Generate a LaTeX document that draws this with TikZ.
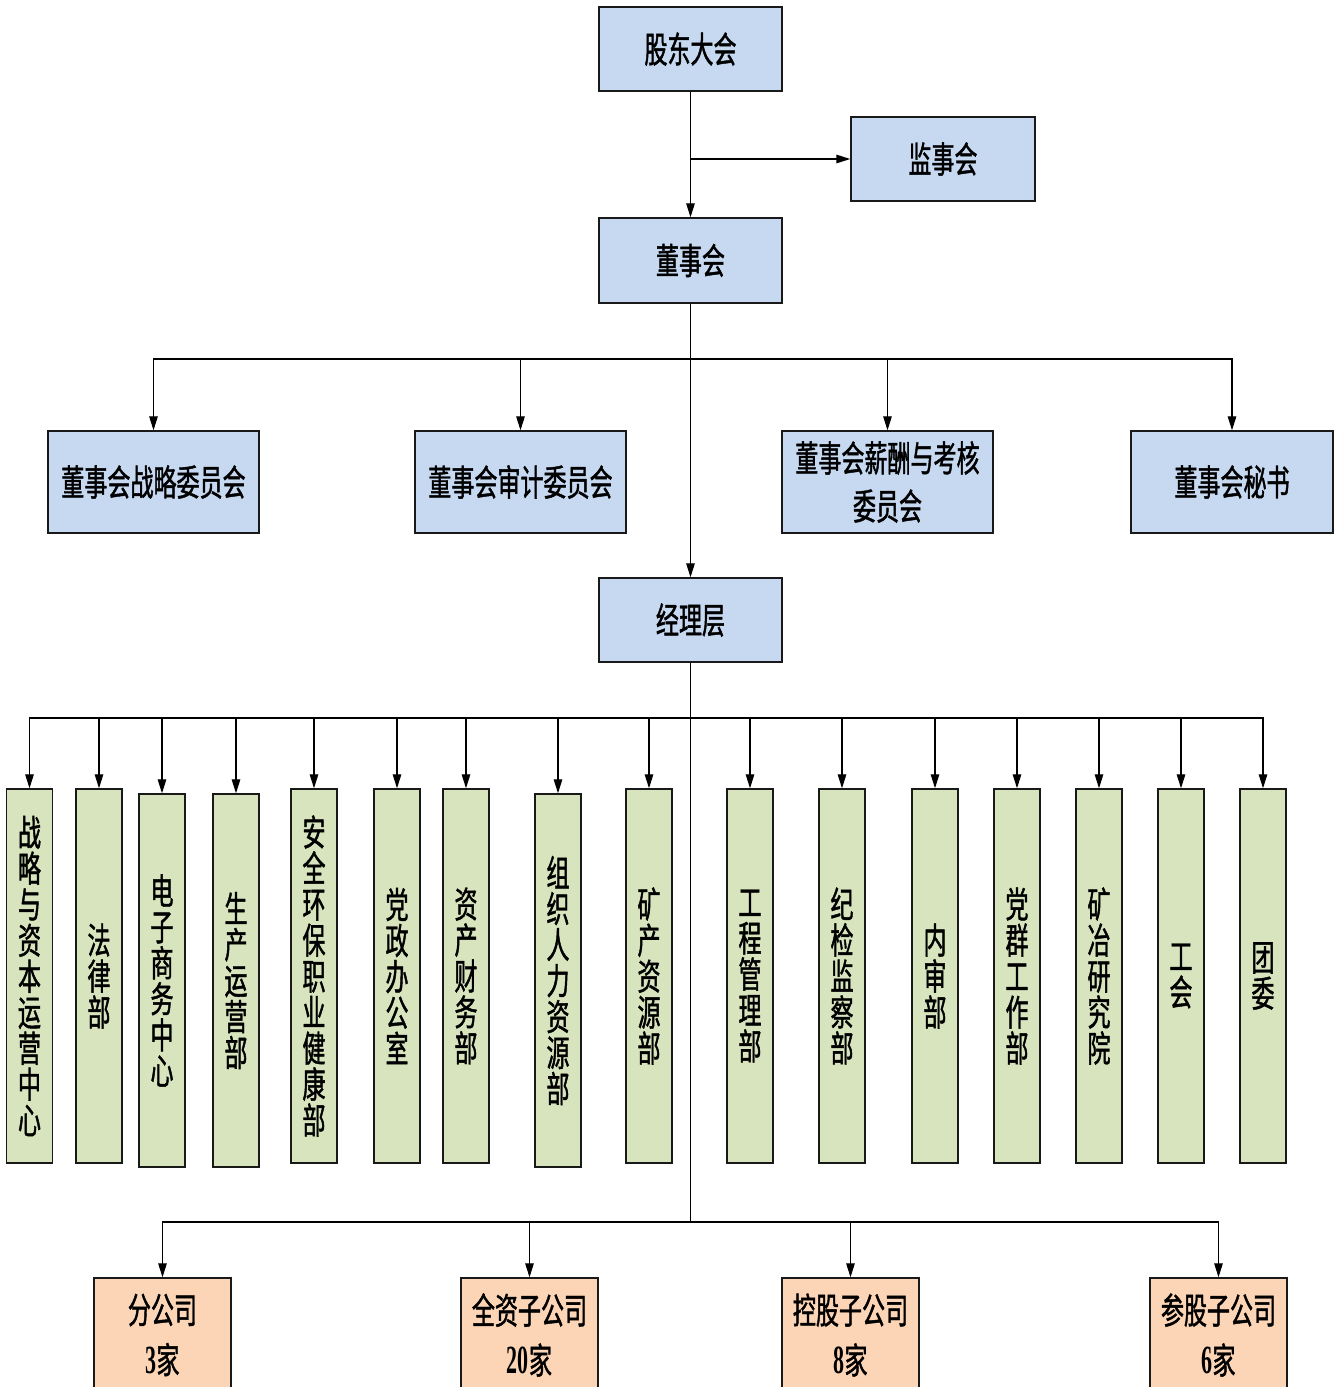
\documentclass[tikz,border=0pt]{standalone}
\usepackage{fontspec}
\newfontfamily\cjk[FakeStretch=0.64,FakeBold=1.2]{Noto Sans CJK SC}
\newfontfamily\numf[FakeStretch=0.55]{Liberation Serif}
\usetikzlibrary{arrows.meta}
\definecolor{cblue}{HTML}{C6D9F1}
\definecolor{cgreen}{HTML}{D7E4BD}
\definecolor{corange}{HTML}{FBD5B5}
\begin{document}
\begin{tikzpicture}[x=1pt,y=-1pt,
  conn/.style={line width=1.3pt, draw=black},
  arr/.style={conn, -{Triangle[length=14pt,width=8.5pt]}},
  boxbase/.style={draw=black!90, line width=1.4pt, inner sep=0pt, align=center,
    font={\cjk\fontsize{36}{36}\selectfont}},
  bluebox/.style={boxbase, fill=cblue},
  deptbox/.style={boxbase, fill=cgreen, minimum width=46pt},
  subbox/.style={boxbase, fill=corange, minimum width=137pt, minimum height=114pt,
    font={\cjk\fontsize{36}{50}\selectfont}}
]
\useasboundingbox (0,0) rectangle (1344,1387);
\clip (0,0) rectangle (1344,1387);

% top level
\node[bluebox, minimum width=183pt, minimum height=84pt] (gd) at (690.5,49) {股东大会};
\node[bluebox, minimum width=184pt, minimum height=84pt] (js) at (943,159) {监事会};
\node[bluebox, minimum width=183pt, minimum height=85pt] (ds) at (690.5,260.5) {董事会};

% committees
\node[bluebox, minimum width=211pt, minimum height=102pt] (c1) at (153.5,482) {董事会战略委员会};
\node[bluebox, minimum width=211pt, minimum height=102pt] (c2) at (520.5,482) {董事会审计委员会};
\node[bluebox, minimum width=211pt, minimum height=102pt, font={\cjk\fontsize{36}{48}\selectfont}] (c3) at (887.5,482) {董事会薪酬与考核\\委员会};
\node[bluebox, minimum width=202pt, minimum height=102pt] (c4) at (1232,482) {董事会秘书};

\node[bluebox, minimum width=183pt, minimum height=84pt] (jl) at (690.5,620) {经理层};

% departments
\node[deptbox, minimum height=374pt] (d1) at (29.5,976) {战\\略\\与\\资\\本\\运\\营\\中\\心};
\node[deptbox, minimum height=374pt] (d2) at (99,976) {法\\律\\部};
\node[deptbox, minimum height=373pt] (d3) at (162,980.5) {电\\子\\商\\务\\中\\心};
\node[deptbox, minimum height=373pt] (d4) at (236,980.5) {生\\产\\运\\营\\部};
\node[deptbox, minimum height=374pt] (d5) at (314,976) {安\\全\\环\\保\\职\\业\\健\\康\\部};
\node[deptbox, minimum height=374pt] (d6) at (397,976) {党\\政\\办\\公\\室};
\node[deptbox, minimum height=374pt] (d7) at (466,976) {资\\产\\财\\务\\部};
\node[deptbox, minimum height=373pt] (d8) at (558,980.5) {组\\织\\人\\力\\资\\源\\部};
\node[deptbox, minimum height=374pt] (d9) at (649,976) {矿\\产\\资\\源\\部};
\node[deptbox, minimum height=374pt] (d10) at (750,976) {工\\程\\管\\理\\部};
\node[deptbox, minimum height=374pt] (d11) at (842,976) {纪\\检\\监\\察\\部};
\node[deptbox, minimum height=374pt] (d12) at (935,976) {内\\审\\部};
\node[deptbox, minimum height=374pt] (d13) at (1017,976) {党\\群\\工\\作\\部};
\node[deptbox, minimum height=374pt] (d14) at (1099,976) {矿\\冶\\研\\究\\院};
\node[deptbox, minimum height=374pt] (d15) at (1181,976) {工\\会};
\node[deptbox, minimum height=374pt] (d16) at (1263,976) {团\\委};

% subsidiaries
\node[subbox] (f1) at (162.5,1335) {分公司\\{\numf\bfseries\fontsize{40}{50}\selectfont 3}家};
\node[subbox] (f2) at (529.5,1335) {全资子公司\\{\numf\bfseries\fontsize{40}{50}\selectfont 20}家};
\node[subbox] (f3) at (850.5,1335) {控股子公司\\{\numf\bfseries\fontsize{40}{50}\selectfont 8}家};
\node[subbox] (f4) at (1218.5,1335) {参股子公司\\{\numf\bfseries\fontsize{40}{50}\selectfont 6}家};

% junctions
\coordinate (j1) at (690.5,159);
\coordinate (b1) at (690.5,359);
\coordinate (b2) at (690.5,718);
\coordinate (b3) at (690.5,1222);

% connectors
\draw[arr] (gd) -- (ds);
\draw[arr] (j1) -- (js);
\draw[conn] (ds) -- (b1);
\draw[arr] (b1) -- (jl);
\foreach \c in {c1,c2,c3,c4} \draw[arr] (b1) -| (\c);
\draw[conn] (jl) -- (b3);
\foreach \d in {d1,d2,d3,d4,d5,d6,d7,d8,d9,d10,d11,d12,d13,d14,d15,d16} \draw[arr] (b2) -| (\d);
\foreach \f in {f1,f2,f3,f4} \draw[arr] (b3) -| (\f);
\end{tikzpicture}
\end{document}
